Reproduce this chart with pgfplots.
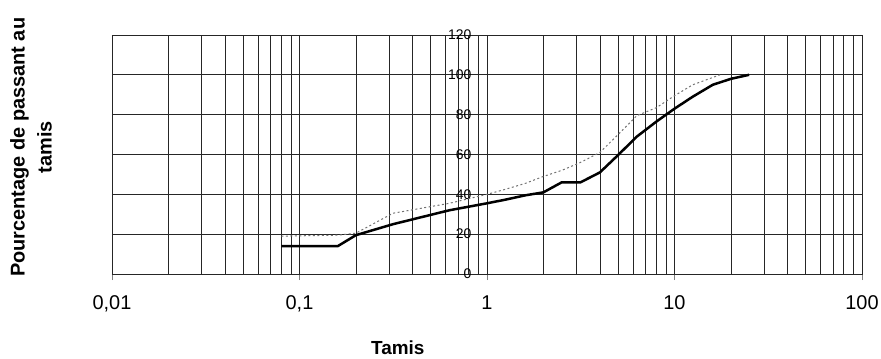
\documentclass[border=0pt]{standalone}
\usepackage{fontspec}
\setmainfont{Liberation Sans}
\usepackage{pgfplots}
\pgfplotsset{compat=1.18}
\begin{document}
\begin{tikzpicture}
\begin{axis}[
  scale only axis,
  width=750bp, height=239bp,
  xmode=log,
  xmin=0.01, xmax=100,
  ymin=0, ymax=120,
  xtick={0.01,0.1,1,10,100},
  xticklabels={{0,01},{0,1},1,10,100},
  ytick={0,20,40,60,80,100,120},
  /pgf/number format/assume math mode=true,
  grid=both,
  major grid style={black!85, line width=0.75bp},
  minor grid style={black!85, line width=0.75bp},
  axis line style={black!85, line width=0.75bp},
  tick align=outside,
  xtick pos=bottom,
  ytick style={draw=none},
  major tick length=6bp,
  minor tick length=0bp,
  xticklabel style={font=\fontsize{20}{24}\selectfont, yshift=-12bp},
  yticklabel style={font=\fontsize{14}{16}\selectfont, anchor=east, xshift=369bp},
  xlabel={Tamis},
  xlabel style={font=\bfseries\fontsize{19}{22}\selectfont, inner sep=1bp, at={(axis description cs:0.381,-0.310)}, anchor=center},
  ylabel={Pourcentage de passant au\\tamis},
  ylabel style={font=\bfseries\fontsize{20}{27}\selectfont, align=center, at={(axis description cs:-0.108,0.53)}, anchor=center},
]
\addplot[black, line width=2.5bp] coordinates {
(0.08,14) (0.16,14) (0.2,19.5) (0.315,25) (0.63,32) (1,35.5) (1.25,37.3) (1.6,39.5) (2,41) (2.5,46) (3.15,46) (4,51) (5,59.7) (6.3,69) (8,76.5) (10,83) (12.5,89) (16,95) (20,98) (25,100)
};
\addplot[black!55, line width=1bp, dash pattern=on 2bp off 2.5bp] coordinates {
(0.08,19) (0.16,19.5) (0.2,20.5) (0.315,30.5) (0.63,35.5) (1,40) (1.25,42.5) (1.6,45.5) (2,49) (2.5,52) (3.15,56) (4,61) (5,70) (6.3,79.5) (8,83.5) (10,89.5) (12.5,95) (17.5,100)
};
\end{axis}
\pgfresetboundingbox
\path[use as bounding box] (-112bp,-85bp) rectangle (769bp,274bp);
\end{tikzpicture}
\end{document}
